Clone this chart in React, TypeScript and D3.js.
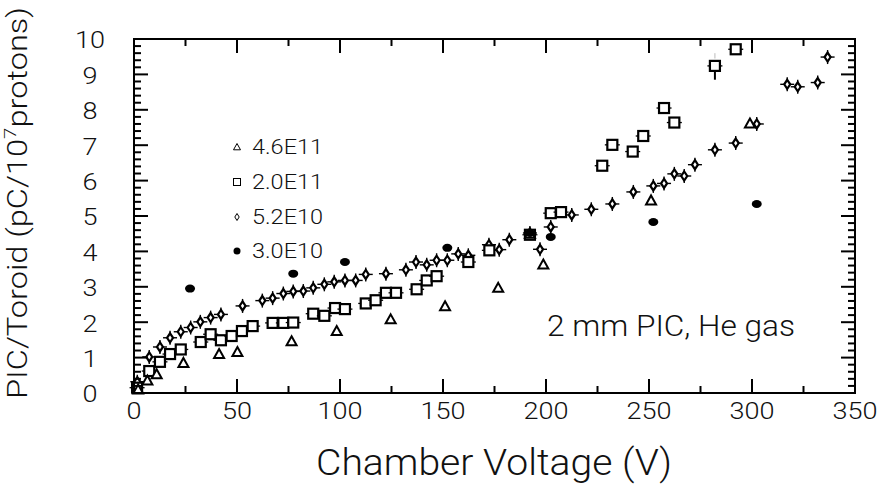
import * as d3 from "d3";

// PIC/Toroid vs chamber voltage, four beam intensities
const tri46E11: [number, number][] = [
  [2, 0.1], [6.5, 0.35], [11, 0.53], [24, 0.85], [41.3, 1.1], [50.2, 1.16], [76.5, 1.46],
  [98.4, 1.75], [124.6, 2.08], [151, 2.45], [176.8, 2.97], [192.2, 4.5], [198.7, 3.63],
  [251, 5.44], [299, 7.61],
];
const sq20E11: [number, number][] = [
  [1.5, 0.15], [7.4, 0.62], [12.6, 0.88], [17.5, 1.1], [22.7, 1.23], [32.4, 1.44], [37.2, 1.66],
  [42.2, 1.49], [47.4, 1.61], [52.4, 1.75], [57.6, 1.89], [67.3, 1.98], [72.5, 1.98], [77.3, 1.99],
  [87, 2.24], [92.4, 2.18], [97.6, 2.4], [102.4, 2.37], [112.5, 2.53], [117.3, 2.62], [122.3, 2.83],
  [127.2, 2.83], [137.2, 2.93], [142.1, 3.18], [146.9, 3.3], [162.3, 3.7], [172.5, 4.03],
  [192.2, 4.47], [202.3, 5.08], [207.3, 5.11], [227.3, 6.42], [232.2, 7.01], [242.1, 6.82],
  [247.2, 7.26], [257.3, 8.05], [262.3, 7.64], [282, 9.24], [292.1, 9.71],
];
const dia52E10: [number, number][] = [
  [1.6, 0.32], [7.4, 1.02], [12.6, 1.3], [17.5, 1.56], [22.7, 1.73], [27.5, 1.85], [32.2, 2.01],
  [37.2, 2.13], [42.2, 2.22], [52.7, 2.46], [62.3, 2.61], [67.3, 2.68], [72.5, 2.81], [77.3, 2.87],
  [82.2, 2.88], [87, 2.97], [92.4, 3.07], [97.2, 3.14], [102.4, 3.18], [107.6, 3.18], [112.5, 3.35],
  [122.3, 3.37], [132, 3.48], [136.9, 3.7], [142.1, 3.62], [146.9, 3.75], [152.1, 3.75],
  [157.4, 3.93], [162.3, 3.89], [172.3, 4.19], [177.3, 4.05], [182.2, 4.33], [192.2, 4.52],
  [197.1, 4.06], [202.3, 4.69], [212.5, 5.03], [222, 5.19], [232.2, 5.34], [242.4, 5.68],
  [252.1, 5.85], [257.3, 5.92], [262.3, 6.19], [267.1, 6.13], [272.3, 6.45], [282, 6.87],
  [292.1, 7.06], [302.3, 7.6], [317.1, 8.72], [322.2, 8.65], [331.9, 8.77], [336.7, 9.49],
];
const dot30E10: [number, number][] = [
  [27.2, 2.95], [77.3, 3.37], [102.4, 3.7], [152.1, 4.1], [192.2, 4.52], [202.3, 4.41],
  [252.1, 4.83], [302.3, 5.34],
];
// vertical error bar on the 282 V square (lower part dark, upper tip faint)
const errBars = [{ x: 282, lo: 8.85, mid: 9.12, top: 9.45, hi: 9.6 }];

const legendLabels = ["4.6E11", "2.0E11", "5.2E10", "3.0E10"];
const xTicks = d3.range(0, 351, 50);
const yTicks = d3.range(0, 11, 1);

const W = 878;
const H = 487;
const left = 134, right = 855, top = 39, bottom = 393;
const font = "Roboto, 'Liberation Sans', Arial, sans-serif";

const x = d3.scaleLinear().domain([0, 350]).range([left, right]);
const y = d3.scaleLinear().domain([0, 10]).range([bottom, top]);

function Tri({ cx, cy, s = 5, sw = 2 }: any) {
  return (
    <polygon
      points={`${cx},${cy - s} ${cx + s},${cy + s * 0.8} ${cx - s},${cy + s * 0.8}`}
      fill="white" stroke="black" strokeWidth={sw}
    />
  );
}
function Sq({ cx, cy, s = 5, sw = 2.2, whisk = true }: any) {
  return (
    <g>
      {whisk && <line x1={cx - 7.5} x2={cx + 7.5} y1={cy} y2={cy} stroke="black" strokeWidth={1.3} />}
      <rect x={cx - s} y={cy - s} width={2 * s} height={2 * s} fill="white" stroke="black" strokeWidth={sw} />
    </g>
  );
}
function Dia({ cx, cy, w = 3, h = 4.5, sw = 2.2, whisk = true }: any) {
  return (
    <g>
      {whisk && <line x1={cx - 7} x2={cx + 7} y1={cy} y2={cy} stroke="black" strokeWidth={1.4} />}
      {whisk && <line x1={cx} x2={cx} y1={cy - 7} y2={cy + 7} stroke="black" strokeWidth={1.4} />}
      <polygon
        points={`${cx},${cy - h} ${cx + w},${cy} ${cx},${cy + h} ${cx - w},${cy}`}
        fill="white" stroke="black" strokeWidth={sw}
      />
    </g>
  );
}
function Dot({ cx, cy, rx = 5, ry = 4 }: any) {
  return <ellipse cx={cx} cy={cy} rx={rx} ry={ry} fill="black" />;
}

export default function App() {
  const xMinor = d3.range(25, 350, 50);
  const yMinor = d3.range(0, 10.001, 0.2).filter((v) => Math.abs(v - Math.round(v)) > 0.01);
  const legY = [147, 182, 217, 251];

  return (
    <svg width={W} height={H} style={{ position: "absolute", left: 0, top: 0, background: "white" }}>
      {errBars.map((e, i) => (
        <g key={"e" + i}>
          <line x1={x(e.x)} x2={x(e.x)} y1={y(e.lo)} y2={y(e.mid)} stroke="black" strokeWidth={2} />
          <line x1={x(e.x)} x2={x(e.x)} y1={y(e.top)} y2={y(e.hi)} stroke="#bbb" strokeWidth={1} />
        </g>
      ))}

      {dia52E10.map((d, i) => <Dia key={"d" + i} cx={x(d[0])} cy={y(d[1])} />)}
      {sq20E11.map((d, i) => <Sq key={"s" + i} cx={x(d[0])} cy={y(d[1])} />)}
      {tri46E11.map((d, i) => <Tri key={"t" + i} cx={x(d[0])} cy={y(d[1])} />)}
      {dot30E10.map((d, i) => <Dot key={"c" + i} cx={x(d[0])} cy={y(d[1])} />)}

      <rect x={left} y={top} width={right - left} height={bottom - top} fill="none" stroke="black" strokeWidth={2} />
      {xTicks.map((v) => (
        <g key={"xt" + v}>
          <line x1={x(v)} x2={x(v)} y1={bottom} y2={bottom - 14} stroke="black" strokeWidth={2} />
          <line x1={x(v)} x2={x(v)} y1={top} y2={top + 14} stroke="black" strokeWidth={2} />
          <text x={x(v)} y={419} textAnchor="middle" fontFamily={font} fontSize={24} fontWeight={300}
            fill="#111" textLength={15 * String(v).length} lengthAdjust="spacingAndGlyphs">{v}</text>
        </g>
      ))}
      {xMinor.map((v) => (
        <g key={"xm" + v}>
          <line x1={x(v)} x2={x(v)} y1={bottom} y2={bottom - 7} stroke="black" strokeWidth={2} />
          <line x1={x(v)} x2={x(v)} y1={top} y2={top + 7} stroke="black" strokeWidth={2} />
        </g>
      ))}
      {yTicks.map((v) => (
        <g key={"yt" + v}>
          <line x1={left} x2={left + 14} y1={y(v)} y2={y(v)} stroke="black" strokeWidth={2} />
          <line x1={right} x2={right - 14} y1={y(v)} y2={y(v)} stroke="black" strokeWidth={2} />
          <text x={90} y={y(v) + 3} textAnchor="middle" dominantBaseline="middle" fontFamily={font}
            fontSize={24} fontWeight={300} fill="#111" textLength={15 * String(v).length}
            lengthAdjust="spacingAndGlyphs">{v}</text>
        </g>
      ))}
      {yMinor.map((v, i) => (
        <g key={"ym" + i}>
          <line x1={left} x2={left + 7} y1={y(v)} y2={y(v)} stroke="black" strokeWidth={2} />
          <line x1={right} x2={right - 7} y1={y(v)} y2={y(v)} stroke="black" strokeWidth={2} />
        </g>
      ))}

      <Tri cx={237} cy={legY[0]} s={3.5} sw={1} />
      <Sq cx={237} cy={legY[1]} s={3.5} sw={1} whisk={false} />
      <Dia cx={237} cy={legY[2]} w={2.2} h={3.5} sw={1} whisk={false} />
      <Dot cx={237} cy={legY[3]} rx={3.5} ry={3.5} />
      {legendLabels.map((l, i) => (
        <text key={l} x={252} y={legY[i] + 7} fontFamily={font} fontSize={21} fontWeight={300}
          fill="#111" textLength={71} lengthAdjust="spacingAndGlyphs">{l}</text>
      ))}

      <text x={547} y={336} fontFamily={font} fontSize={29} fontWeight={300} fill="#111"
        textLength={248} lengthAdjust="spacingAndGlyphs">2 mm PIC, He gas</text>

      <text x={494} y={475} textAnchor="middle" fontFamily={font} fontSize={37} fontWeight={300}
        fill="#111" textLength={356} lengthAdjust="spacingAndGlyphs">Chamber Voltage (V)</text>
      <text transform="translate(27,203) rotate(-90)" textAnchor="middle" fontFamily={font}
        fontSize={27} fontWeight={300} fill="#111" textLength={392} lengthAdjust="spacingAndGlyphs">
        PIC/Toroid (pC/10<tspan fontSize={17} dy={-11}>7</tspan><tspan dy={11}>protons)</tspan>
      </text>
    </svg>
  );
}
